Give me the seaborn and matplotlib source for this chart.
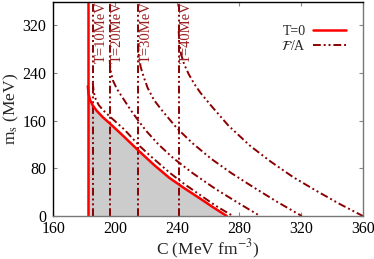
import numpy as np
import pandas as pd
import seaborn as sns
import matplotlib.pyplot as plt
from matplotlib.lines import Line2D

# T = 0 stability window (red)
c_left_t0 = 182.4
c_t0 = [182.4, 182.8, 183.8, 185.5, 188, 192, 198, 205, 215, 225, 235, 245, 255, 263, 272]
ms_t0 = [218, 206, 195, 186, 177, 166, 152, 135, 110, 86, 64, 46, 29, 15, 0]

# finite temperature (free energy per baryon)
temps = [10, 20, 30, 40]
c_left = [185.6, 196.5, 214.8, 241.0]
c_t10 = [185.6, 186.2, 187.5, 189.5, 192.5, 197, 206, 216, 224, 235.5, 245, 255, 265, 276]
ms_t10 = [224, 208, 196, 186, 177, 166, 145, 117, 98, 72, 53, 35, 17, 0]
c_t20 = [196.5, 197, 198.5, 201, 205, 210, 215, 220, 228, 237.6, 250, 265, 280, 293.5]
ms_t20 = [262, 245, 228, 214, 198, 178, 160, 143, 120, 97, 72, 45, 21, 0]
c_t30 = [214.8, 215.3, 216.5, 218.5, 221, 225, 230, 240, 250, 262, 275, 290, 305, 320.4]
ms_t30 = [290, 268, 250, 233, 215, 195, 178, 147, 122, 96, 72, 47, 23, 0]
c_t40 = [241, 241.5, 242.5, 244.5, 247.5, 251, 255, 262, 273, 287, 300, 315, 330, 345, 359.8]
ms_t40 = [310, 290, 272, 255, 238, 222, 207, 185, 152, 118, 92, 65, 42, 20, 0]
curves = [(c_t10, ms_t10), (c_t20, ms_t20), (c_t30, ms_t30), (c_t40, ms_t40)]

xticks = [160, 200, 240, 280, 320, 360]
yticks = [0, 80, 160, 240, 320]

sns.set_style("ticks")
plt.rcParams['font.family'] = ['Liberation Serif', 'DejaVu Serif']
plt.rcParams['mathtext.fontset'] = 'stix'

red = '#ff0000'
dred = '#8b0000'
dashdot2 = (0, (4, 1.5, 1, 1.5, 1, 1.5))

fig = plt.figure(figsize=(3.74, 2.59), dpi=100)
ax = fig.add_axes([0.142, 0.166, 0.829, 0.828])

# shaded window
ax.fill_between(c_t0, 0, ms_t0, color='#cccccc', lw=0)

# dash-dot curves and verticals
for T, cl, (cx, cy) in zip(temps, c_left, curves):
    df = pd.DataFrame({'C': cx, 'ms': cy})
    sns.lineplot(data=df, x='C', y='ms', sort=False, estimator=None, ax=ax,
                 color=dred, lw=1.4, linestyle=dashdot2)
    ax.axvline(cl, color=dred, lw=1.4, linestyle=dashdot2)
    ax.text(cl + 1.0, 360, f'T={T}MeV', rotation=90, va='top', ha='left',
            fontsize=10.5, color='#9b2020')

# T=0
df0 = pd.DataFrame({'C': c_t0, 'ms': ms_t0})
sns.lineplot(data=df0, x='C', y='ms', sort=False, estimator=None, ax=ax,
             color=red, lw=1.8)
ax.axvline(c_left_t0, color=red, lw=1.8)

ax.set_xlim(160, 360)
ax.set_ylim(0, 360)
ax.set_xticks(xticks)
ax.set_yticks(yticks)
ax.tick_params(direction='in', length=3, width=0.8, labelsize=11.5,
               top=True, right=True, colors='#888888', labelcolor='black')
ax.tick_params(axis='x', pad=3.5)
ax.tick_params(axis='y', pad=5)
ax.set_xlabel('C (MeV fm$^{-3}$)', fontsize=12.5)
ax.xaxis.set_label_coords(0.5, -0.1)
ax.set_ylabel('m$_\\mathrm{s}$ (MeV)', fontsize=12.5, labelpad=1)
for s in ['left', 'top']:
    ax.spines[s].set_color('black')
for s in ['bottom', 'right']:
    ax.spines[s].set_color('#777777')
for s in ax.spines.values():
    s.set_linewidth(1.0)

handles = [Line2D([], [], color=red, lw=1.8),
           Line2D([], [], color=dred, lw=1.4, linestyle=dashdot2)]
ax.legend(handles, ['T=0', '$\\mathcal{F}$/A'], loc='upper right',
          bbox_to_anchor=(0.985, 0.95), frameon=False, markerfirst=False,
          fontsize=10, handlelength=2.4, handletextpad=0.5, labelspacing=0.1)

fig.savefig('out.png', dpi=100)
